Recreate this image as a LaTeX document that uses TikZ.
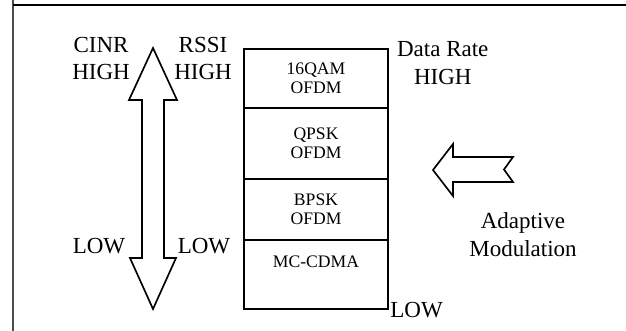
\documentclass[tikz,border=0pt]{standalone}
\usepackage{fontspec}
\setmainfont{Liberation Serif}
\usetikzlibrary{positioning}
\tikzset{
x=0.75pt, y=-0.75pt, % one unit is one pixel of the reference, y runs down
cell/.style={draw, line width=1.25pt, minimum width=108pt, inner sep=0pt, align=center, font=\fontsize{13.2}{14.25}\selectfont}, % the rows of the stack
tag/.style={align=center, inner sep=1pt, font=\fontsize{17.25}{20.5}\selectfont}, % the side labels
fatarrow/.style={draw, line width=1.25pt, line join=miter, fill=white}, % the outlined arrows
}
\begin{document}
\begin{tikzpicture}
\useasboundingbox (0,0) rectangle (626,331);

% frame of the cell
\draw[black!70, line width=1.3pt] (13,0) -- (13,331);
\draw[line width=1pt] (13,5) -- (626,5);

% modulation stack
\node[cell, minimum height=59*0.75pt] at (316,78.5) (qam) {16QAM\\OFDM};
\node[cell, minimum height=71*0.75pt] at (316,143.5) (qpsk) {QPSK\\OFDM};
\node[cell, minimum height=61*0.75pt] at (316,209.5) (bpsk) {BPSK\\OFDM};
\node[cell, minimum height=69*0.75pt, label={[anchor=north, inner sep=0pt, yshift=-12pt, font=\fontsize{13.2}{14.25}\selectfont]north:MC-CDMA}] at (316,274.5) (mc) {};

% labels
\node[tag] at (101,58.5) (cinr) {CINR\\HIGH};
\node[tag] at (203,58.5) (rssi) {RSSI\\HIGH};
\node[tag, anchor=north west, inner sep=0pt, xshift=6pt, yshift=5pt] at (qam.north east) (rate) {Data Rate\\HIGH};
\node[tag] at (99,246) (cinrlow) {LOW};
\node[tag] at (204,246) (rssilow) {LOW};
\node[tag, anchor=west, inner sep=1pt] at (mc.south east) (ratelow) {LOW};
\node[tag] at (523,234.5) (adapt) {Adaptive\\Modulation};

% up and down arrow
\draw[fatarrow] (153,48) -- (177,100) -- (164,100) -- (164,258) -- (176,258) -- (153,309)
  -- (130,258) -- (142,258) -- (142,100) -- (129,100) -- cycle;

% arrow pointing at the stack
\draw[fatarrow] (433,170) -- (453,144) -- (453,157) -- (513,157) -- (504,169.5)
  -- (513,182) -- (453,182) -- (453,196) -- cycle;

\end{tikzpicture}
\end{document}
